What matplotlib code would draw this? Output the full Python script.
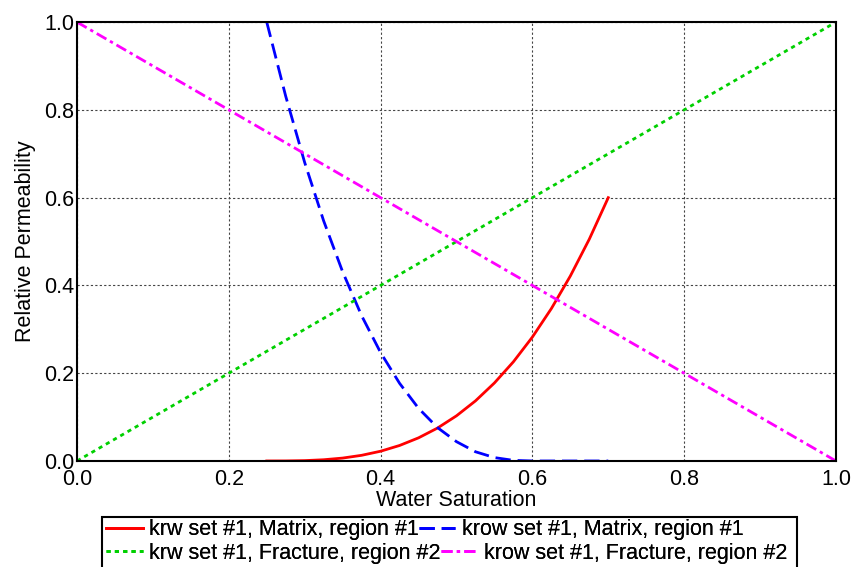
import matplotlib
matplotlib.use('Agg')
import matplotlib.pyplot as plt
from matplotlib.patches import Rectangle

plt.rcParams['font.family'] = ['Liberation Sans', 'DejaVu Sans']

# Matrix (region #1) relative permeability table
sw_matrix = [0.25, 0.275, 0.30, 0.325, 0.35, 0.375, 0.40, 0.425, 0.45, 0.475,
             0.50, 0.525, 0.55, 0.575, 0.60, 0.625, 0.65, 0.675, 0.70]
krw_matrix = [0.0, 0.0001, 0.0008, 0.0028, 0.0066, 0.0129, 0.0222, 0.0353, 0.0527, 0.075,
              0.1029, 0.1369, 0.1778, 0.226, 0.2823, 0.3472, 0.4214, 0.5054, 0.60]
krow_matrix = [1.0, 0.831, 0.680, 0.547, 0.431, 0.331, 0.247, 0.177, 0.120, 0.076,
               0.044, 0.021, 0.0077, 0.0014, 0.0, 0.0, 0.0, 0.0, 0.0]

# Fracture (region #2) straight-line curves
sw_fracture = [0.0, 1.0]
krw_fracture = [0.0, 1.0]
krow_fracture = [1.0, 0.0]

fs = 15.5
W, H = 853, 567

fig = plt.figure(figsize=(W / 100, H / 100), dpi=100)
ax = fig.add_axes([0.0903, 0.187, 0.8897, 0.774])

lw = 2.0
l1, = ax.plot(sw_matrix, krw_matrix, color='#ff0000', lw=lw, label='krw set #1, Matrix, region #1')
l2, = ax.plot(sw_matrix, krow_matrix, color='#0000ff', lw=lw, dashes=(5.5, 2.5),
              label='krow set #1, Matrix, region #1')
l3, = ax.plot(sw_fracture, krw_fracture, color='#00d000', lw=lw, dashes=(1.5, 1.5),
              label='krw set #1, Fracture, region #2')
l4, = ax.plot(sw_fracture, krow_fracture, color='#ff00ff', lw=lw, dashes=(4, 1.5, 1.2, 1.5),
              label='krow set #1, Fracture, region #2')

ax.set_xlim(0, 1)
ax.set_ylim(0, 1)
ax.set_xticks([0, 0.2, 0.4, 0.6, 0.8, 1.0])
ax.set_yticks([0, 0.2, 0.4, 0.6, 0.8, 1.0])
ax.xaxis.set_major_formatter(matplotlib.ticker.FormatStrFormatter('%.1f'))
ax.yaxis.set_major_formatter(matplotlib.ticker.FormatStrFormatter('%.1f'))
ax.tick_params(axis='x', length=0, labelsize=fs, pad=6)
ax.tick_params(axis='y', length=0, labelsize=fs, pad=2)
ax.grid(True, color='#444444', lw=0.8, linestyle=(0, (2, 2)))
for s in ax.spines.values():
    s.set_linewidth(1.5)
    s.set_color('black')

ax.set_xlabel('Water Saturation', fontsize=fs, labelpad=0)
ax.set_ylabel('Relative Permeability', fontsize=fs, labelpad=6)

# each legend row is laid out on its own, one box drawn round both
rows = [([l1, l2], 530), ([l3, l4], 553)]
for hs, ypx in rows:
    leg = fig.legend(hs, [h.get_label() for h in hs],
                     loc='center left', bbox_to_anchor=(101.7 / W, 1 - ypx / H),
                     bbox_transform=fig.transFigure, borderaxespad=0,
                     ncol=2, fontsize=fs, frameon=False, handlelength=1.7,
                     handletextpad=0.3, columnspacing=0.0, borderpad=0.2)
    fig.add_artist(leg)

fig.add_artist(Rectangle((101.7 / W, 1 - 569 / H), (796.7 - 101.7) / W, (569 - 516.7) / H,
                         transform=fig.transFigure, fill=False, edgecolor='black',
                         lw=1.5, clip_on=False))

fig.savefig('out.png', dpi=100)
